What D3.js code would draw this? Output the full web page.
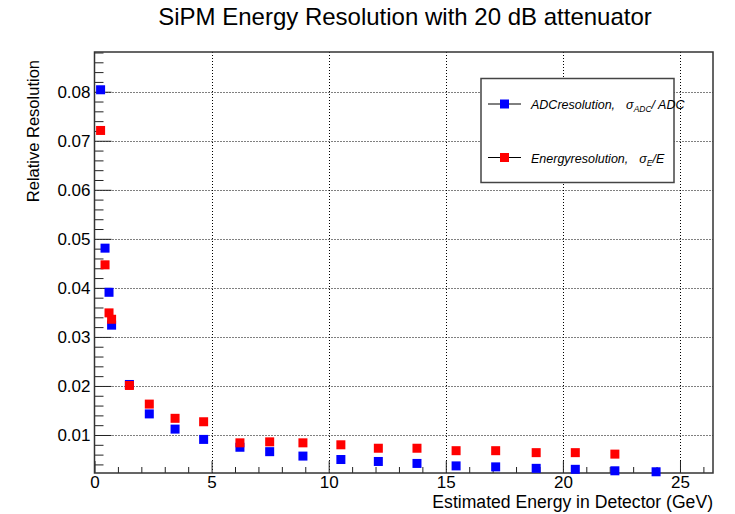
<!DOCTYPE html>
<html>
<head>
<meta charset="utf-8">
<script src="https://cdn.jsdelivr.net/npm/d3@7.9.0/dist/d3.min.js"></script>
<style>
  body { margin: 0; background: #fff; }
  svg { display: block; font-family: "Liberation Sans", Arial, sans-serif; }
</style>
</head>
<body>
<svg id="chart" width="735" height="514"></svg>
<script>
// energies (GeV) where the two resolutions were measured
const energy = [0.26, 0.45, 0.62, 0.73, 1.49, 2.34, 3.44, 4.66, 6.21, 7.48, 8.90, 10.52, 12.12, 13.77, 15.44, 17.13, 18.86, 20.53, 22.22, 23.98];
// sigma_ADC / ADC
const adcRes = [0.0804, 0.0481, 0.0391, 0.0324, 0.0203, 0.0143, 0.0112, 0.0091, 0.0075, 0.0066, 0.0057, 0.0050, 0.0046, 0.0042, 0.0037, 0.0035, 0.0032, 0.0030, 0.0027, 0.0025];
// sigma_E / E (no point at the last energy)
const energyRes = [0.0721, 0.0447, 0.0349, 0.0336, 0.0201, 0.0163, 0.0134, 0.0127, 0.0084, 0.0086, 0.0084, 0.0080, 0.0073, 0.0073, 0.0068, 0.0068, 0.0064, 0.0064, 0.0061];

const xTicks = [0, 5, 10, 15, 20, 25];
const yTicks = [0.01, 0.02, 0.03, 0.04, 0.05, 0.06, 0.07, 0.08];

const frame = { left: 94.5, right: 713, top: 52, bottom: 473 };

const svg = d3.select('#chart');

let x = d3.scaleLinear().domain([0, 26.41]).range([frame.left, frame.right]);
let y = d3.scaleLinear().domain([0.00225, 0.0881]).range([frame.bottom, frame.top]);

// grid
const grid = svg.append('g')
    .attr('stroke', '#000')
    .attr('stroke-width', 1)
    .attr('stroke-dasharray', '1,2');
xTicks.filter(d => d > 0).forEach(d => {
    grid.append('line')
        .attr('x1', Math.round(x(d)) + 0.5).attr('x2', Math.round(x(d)) + 0.5)
        .attr('y1', frame.top).attr('y2', frame.bottom);
});
yTicks.forEach(d => {
    grid.append('line')
        .attr('x1', frame.left).attr('x2', frame.right)
        .attr('y1', Math.round(y(d)) + 0.5).attr('y2', Math.round(y(d)) + 0.5);
});

// minor ticks
const xMinor = d3.range(1, 27).filter(d => d % 5 !== 0);
const yMinor = d3.range(2, 90, 2).map(d => d / 1000).filter(d => Math.round(d * 1000) % 10 !== 0 && d > 0.00225 && d < 0.0881);

svg.append('g')
    .attr('transform', `translate(0,${frame.bottom})`)
    .call(d3.axisBottom(x).tickValues(xMinor).tickSize(-6).tickFormat(''))
    .call(g => g.select('.domain').remove());
svg.append('g')
    .attr('transform', `translate(${frame.left},0)`)
    .call(d3.axisLeft(y).tickValues(yMinor).tickSize(-9).tickFormat(''))
    .call(g => g.select('.domain').remove());

// major axes
svg.append('g')
    .attr('transform', `translate(0,${frame.bottom})`)
    .call(d3.axisBottom(x).tickValues(xTicks).tickSize(-12).tickPadding(3).tickFormat(d3.format('d')))
    .call(g => g.select('.domain').remove())
    .call(g => g.selectAll('text').attr('font-size', 17).attr('fill', '#000').attr('font-family', 'Liberation Sans'));
svg.append('g')
    .attr('transform', `translate(${frame.left},0)`)
    .call(d3.axisLeft(y).tickValues(yTicks).tickSize(-17).tickPadding(4).tickFormat(d3.format('.2f')))
    .call(g => g.select('.domain').remove())
    .call(g => g.selectAll('text').attr('font-size', 17).attr('fill', '#000').attr('font-family', 'Liberation Sans'));

svg.selectAll('.tick line').attr('stroke', '#222');

// frame
svg.append('rect')
    .attr('x', frame.left).attr('y', frame.top)
    .attr('width', frame.right - frame.left).attr('height', frame.bottom - frame.top)
    .attr('fill', 'none').attr('stroke', '#333').attr('stroke-width', 1.5);

// markers
const ms = 9;
svg.append('g').selectAll('rect')
    .data(adcRes)
    .join('rect')
    .attr('x', (d, i) => x(energy[i]) - ms / 2)
    .attr('y', d => y(d) - ms / 2)
    .attr('width', ms).attr('height', ms)
    .attr('fill', '#0000ff');
svg.append('g').selectAll('rect')
    .data(energyRes)
    .join('rect')
    .attr('x', (d, i) => x(energy[i]) - ms / 2)
    .attr('y', d => y(d) - ms / 2)
    .attr('width', ms).attr('height', ms)
    .attr('fill', '#ff0000');

// title and axis titles
svg.append('text')
    .attr('x', 405).attr('y', 25)
    .attr('text-anchor', 'middle')
    .attr('font-size', 24)
    .text('SiPM Energy Resolution with 20 dB attenuator');

svg.append('text')
    .attr('transform', 'translate(39,60) rotate(-90)')
    .attr('text-anchor', 'end')
    .attr('font-size', 16.5)
    .text('Relative Resolution');

svg.append('text')
    .attr('x', frame.right).attr('y', 508)
    .attr('text-anchor', 'end')
    .attr('font-size', 17.6)
    .text('Estimated Energy in Detector (GeV)');

// legend
const legend = svg.append('g');
legend.append('rect')
    .attr('x', 481).attr('y', 78.5).attr('width', 193).attr('height', 104)
    .attr('fill', '#fff').attr('stroke', '#444').attr('stroke-width', 1.5);

const entries = [
    { color: '#0000ff', label: 'ADCresolution,', sub: 'ADC', tail: '/ ADC', y: 104 },
    { color: '#ff0000', label: 'Energyresolution,', sub: 'E', tail: '/E', y: 157.5 }
];
entries.forEach(e => {
    legend.append('line')
        .attr('x1', 488).attr('x2', 521).attr('y1', e.y).attr('y2', e.y)
        .attr('stroke', '#000').attr('stroke-width', 1);
    legend.append('rect')
        .attr('x', 504.5 - ms / 2).attr('y', e.y - ms / 2)
        .attr('width', ms).attr('height', ms)
        .attr('fill', e.color);
    const t = legend.append('text')
        .attr('x', 531).attr('y', e.y + 5)
        .attr('font-size', 12.5)
        .attr('font-style', 'italic');
    t.append('tspan').text(e.label);
    t.append('tspan').attr('dx', 11).text('σ');
    t.append('tspan').attr('font-size', 8.5).attr('dy', 3).text(e.sub);
    t.append('tspan').attr('dy', -3).text(e.tail);
});
</script>
</body>
</html>
